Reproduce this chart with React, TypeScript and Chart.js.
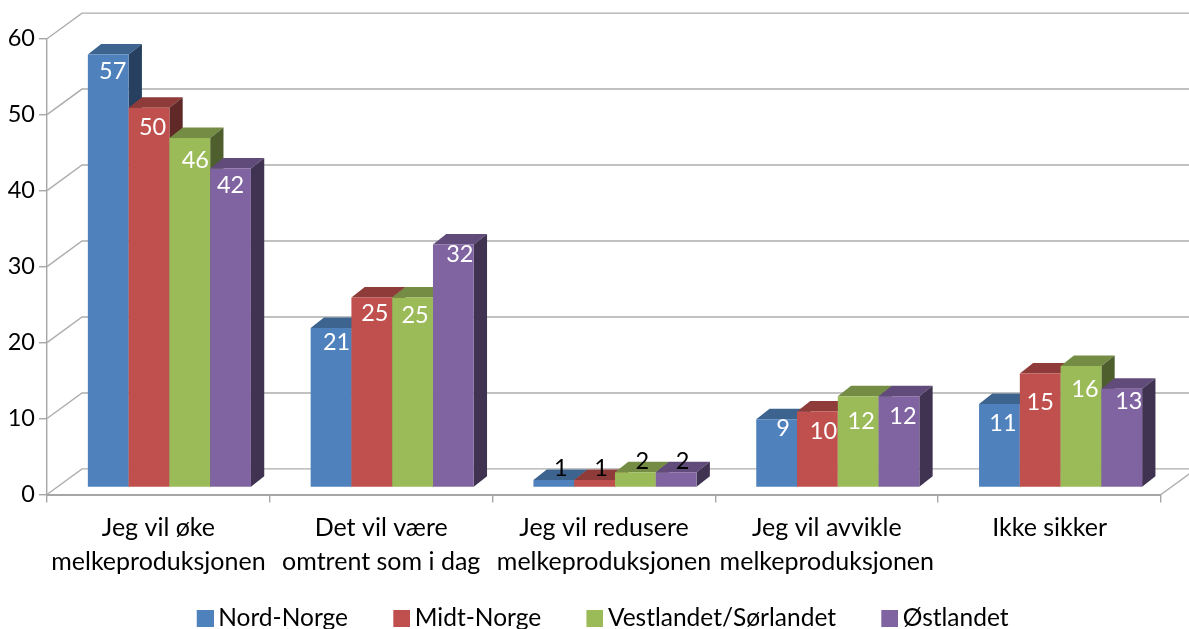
import React, { useEffect, useRef } from "react";
import { Chart, registerables } from "chart.js";

Chart.register(...registerables);

const categories = [
  ["Jeg vil øke", "melkeproduksjonen"],
  ["Det vil være", "omtrent som i dag"],
  ["Jeg vil redusere", "melkeproduksjonen"],
  ["Jeg vil avvikle", "melkeproduksjonen"],
  ["Ikke sikker"],
];
const seriesNames = ["Nord-Norge", "Midt-Norge", "Vestlandet/Sørlandet", "Østlandet"];
const nordNorge = [57, 21, 1, 9, 11];
const midtNorge = [50, 25, 1, 10, 15];
const vestlandet = [46, 25, 2, 12, 16];
const ostlandet = [42, 32, 2, 12, 13];
const seriesValues = [nordNorge, midtNorge, vestlandet, ostlandet];

const frontColors = ["#4F81BD", "#C0504D", "#9BBB59", "#8064A2"];
const topColors = ["#3C648F", "#8E3B39", "#748C43", "#604B7A"];
const sideColors = ["#28405F", "#602826", "#4E5E2D", "#403251"];

// Label nudges [dx, dy] relative to the bar's top centre (per series, per category)
const labelNudges = [
  [[4.5, 17], [5.5, 14], [7, -11], [6.5, 9], [3.5, 19]],
  [[3.5, 20], [3, 16], [6.5, -11], [6, 20], [0, 29]],
  [[5.5, 22], [2.5, 18], [7, -11], [3, 25], [4, 23]],
  [[0, 17], [6.5, 10], [6.5, -11], [4, 20], [7, 13]],
];

const FONT = "Lato, Carlito, sans-serif";
const NUM_SIZE = 23.5;
const CAT_SIZE = 25;
const LEGEND_SIZE = 24.5;
const GRID = "#ADADAD";
const AXIS = "#A6A6A6";
const WALL_DX = 35;
const WALL_DY = -25.6;
const BAR_DX = 11;
const BAR_DY = -7;
const DEPTH_DX = 13.3;
const DEPTH_DY = -10.5;

function swatch(color: string) {
  const c = document.createElement("canvas");
  c.width = 22;
  c.height = 17;
  const g = c.getContext("2d")!;
  g.fillStyle = color;
  g.fillRect(5, 0, 17, 17);
  return c;
}

const noLabelClip = (s: any) => {
  s._computeLabelArea = () => undefined;
};

const walls = {
  id: "walls",
  beforeDatasetsDraw(chart: any) {
    const { ctx, scales } = chart;
    const y = scales.y;
    const x = scales.x;
    ctx.save();
    ctx.strokeStyle = GRID;
    ctx.lineWidth = 1.4;
    y.ticks.forEach((t: any) => {
      const py = y.getPixelForValue(t.value);
      ctx.beginPath();
      ctx.moveTo(x.left, py);
      ctx.lineTo(x.left + WALL_DX, py + WALL_DY);
      ctx.lineTo(x.right + WALL_DX, py + WALL_DY);
      ctx.stroke();
    });
    const py0 = y.getPixelForValue(0);
    ctx.beginPath();
    ctx.moveTo(x.right, py0);
    ctx.lineTo(x.right + WALL_DX, py0 + WALL_DY);
    ctx.stroke();
    ctx.restore();

    // Bars sit on a plane in front of the back wall; series paint left to right
    ctx.save();
    ctx.translate(BAR_DX, BAR_DY);
    chart.data.datasets.forEach((_: any, i: number) => {
      const meta = chart.getDatasetMeta(i);
      meta.data.forEach((el: any) => {
        const l = el.x - el.width / 2;
        const r = el.x + el.width / 2;
        ctx.fillStyle = topColors[i];
        ctx.beginPath();
        ctx.moveTo(l, el.y);
        ctx.lineTo(l + DEPTH_DX, el.y + DEPTH_DY);
        ctx.lineTo(r + DEPTH_DX, el.y + DEPTH_DY);
        ctx.lineTo(r, el.y);
        ctx.closePath();
        ctx.fill();
        ctx.fillStyle = sideColors[i];
        ctx.beginPath();
        ctx.moveTo(r, el.y);
        ctx.lineTo(r + DEPTH_DX, el.y + DEPTH_DY);
        ctx.lineTo(r + DEPTH_DX, el.base + DEPTH_DY);
        ctx.lineTo(r, el.base);
        ctx.closePath();
        ctx.fill();
      });
      meta.controller.draw();
    });
    ctx.font = `${NUM_SIZE}px ${FONT}`;
    ctx.textAlign = "center";
    ctx.textBaseline = "middle";
    chart.data.datasets.forEach((ds: any, i: number) => {
      chart.getDatasetMeta(i).data.forEach((el: any, j: number) => {
        const [dx, dy] = labelNudges[i][j];
        ctx.fillStyle = ds.data[j] <= 2 ? "#000000" : "#FFFFFF";
        ctx.fillText(String(ds.data[j]), el.x + dx, el.y + dy);
      });
    });
    ctx.restore();
    return false;
  },
};

export default function App() {
  const ref = useRef<HTMLCanvasElement>(null);
  useEffect(() => {
    const chart = new Chart(ref.current!, {
      type: "bar",
      data: {
        labels: categories,
        datasets: seriesNames.map((name, i) => ({
          label: name,
          data: seriesValues[i],
          backgroundColor: frontColors[i],
          borderWidth: 0,
          categoryPercentage: 0.732,
          barPercentage: 1,
        })),
      } as any,
      options: {
        responsive: false,
        animation: false,
        layout: { padding: { left: 47, right: 28, top: 38.7, bottom: -11.25 } },
        scales: {
          x: {
            afterFit(s: any) {
              s.height = 63.25;
              noLabelClip(s);
            },
            grid: { drawOnChartArea: false, color: AXIS, tickLength: 8, lineWidth: 1.4 },
            border: { color: AXIS, width: 2 },
            ticks: {
              color: "#000000",
              font: { family: FONT, size: CAT_SIZE, lineHeight: 1.36 },
              padding: 8,
              autoSkip: false,
              maxRotation: 0,
            },
          },
          y: {
            min: 0,
            max: 60,
            afterFit(s: any) {
              s.width = 0;
              noLabelClip(s);
            },
            grid: { drawOnChartArea: false, color: AXIS, tickLength: 8, lineWidth: 1.4 },
            border: { color: AXIS, width: 1.4 },
            ticks: {
              stepSize: 10,
              color: "#000000",
              font: { family: FONT, size: NUM_SIZE },
              padding: 4,
            },
          },
        },
        plugins: {
          tooltip: { enabled: false },
          title: { display: false },
          legend: {
            position: "bottom",
            labels: {
              usePointStyle: true,
              pointStyleWidth: 6.5,
              boxHeight: 17,
              padding: 48,
              color: "#000000",
              font: { family: FONT, size: LEGEND_SIZE },
              generateLabels: (c: any) =>
                Chart.defaults.plugins.legend.labels.generateLabels(c).map((item: any, i: number) => ({
                  ...item,
                  pointStyle: swatch(frontColors[i]),
                })),
            },
          },
        },
      } as any,
      plugins: [walls],
    });
    return () => chart.destroy();
  }, []);
  return (
    <div style={{ position: "fixed", left: 0, top: 0, width: 1189, height: 629, overflow: "hidden", background: "#fff" }}>
      <canvas ref={ref} width={1189} height={629} style={{ display: "block" }} />
    </div>
  );
}
